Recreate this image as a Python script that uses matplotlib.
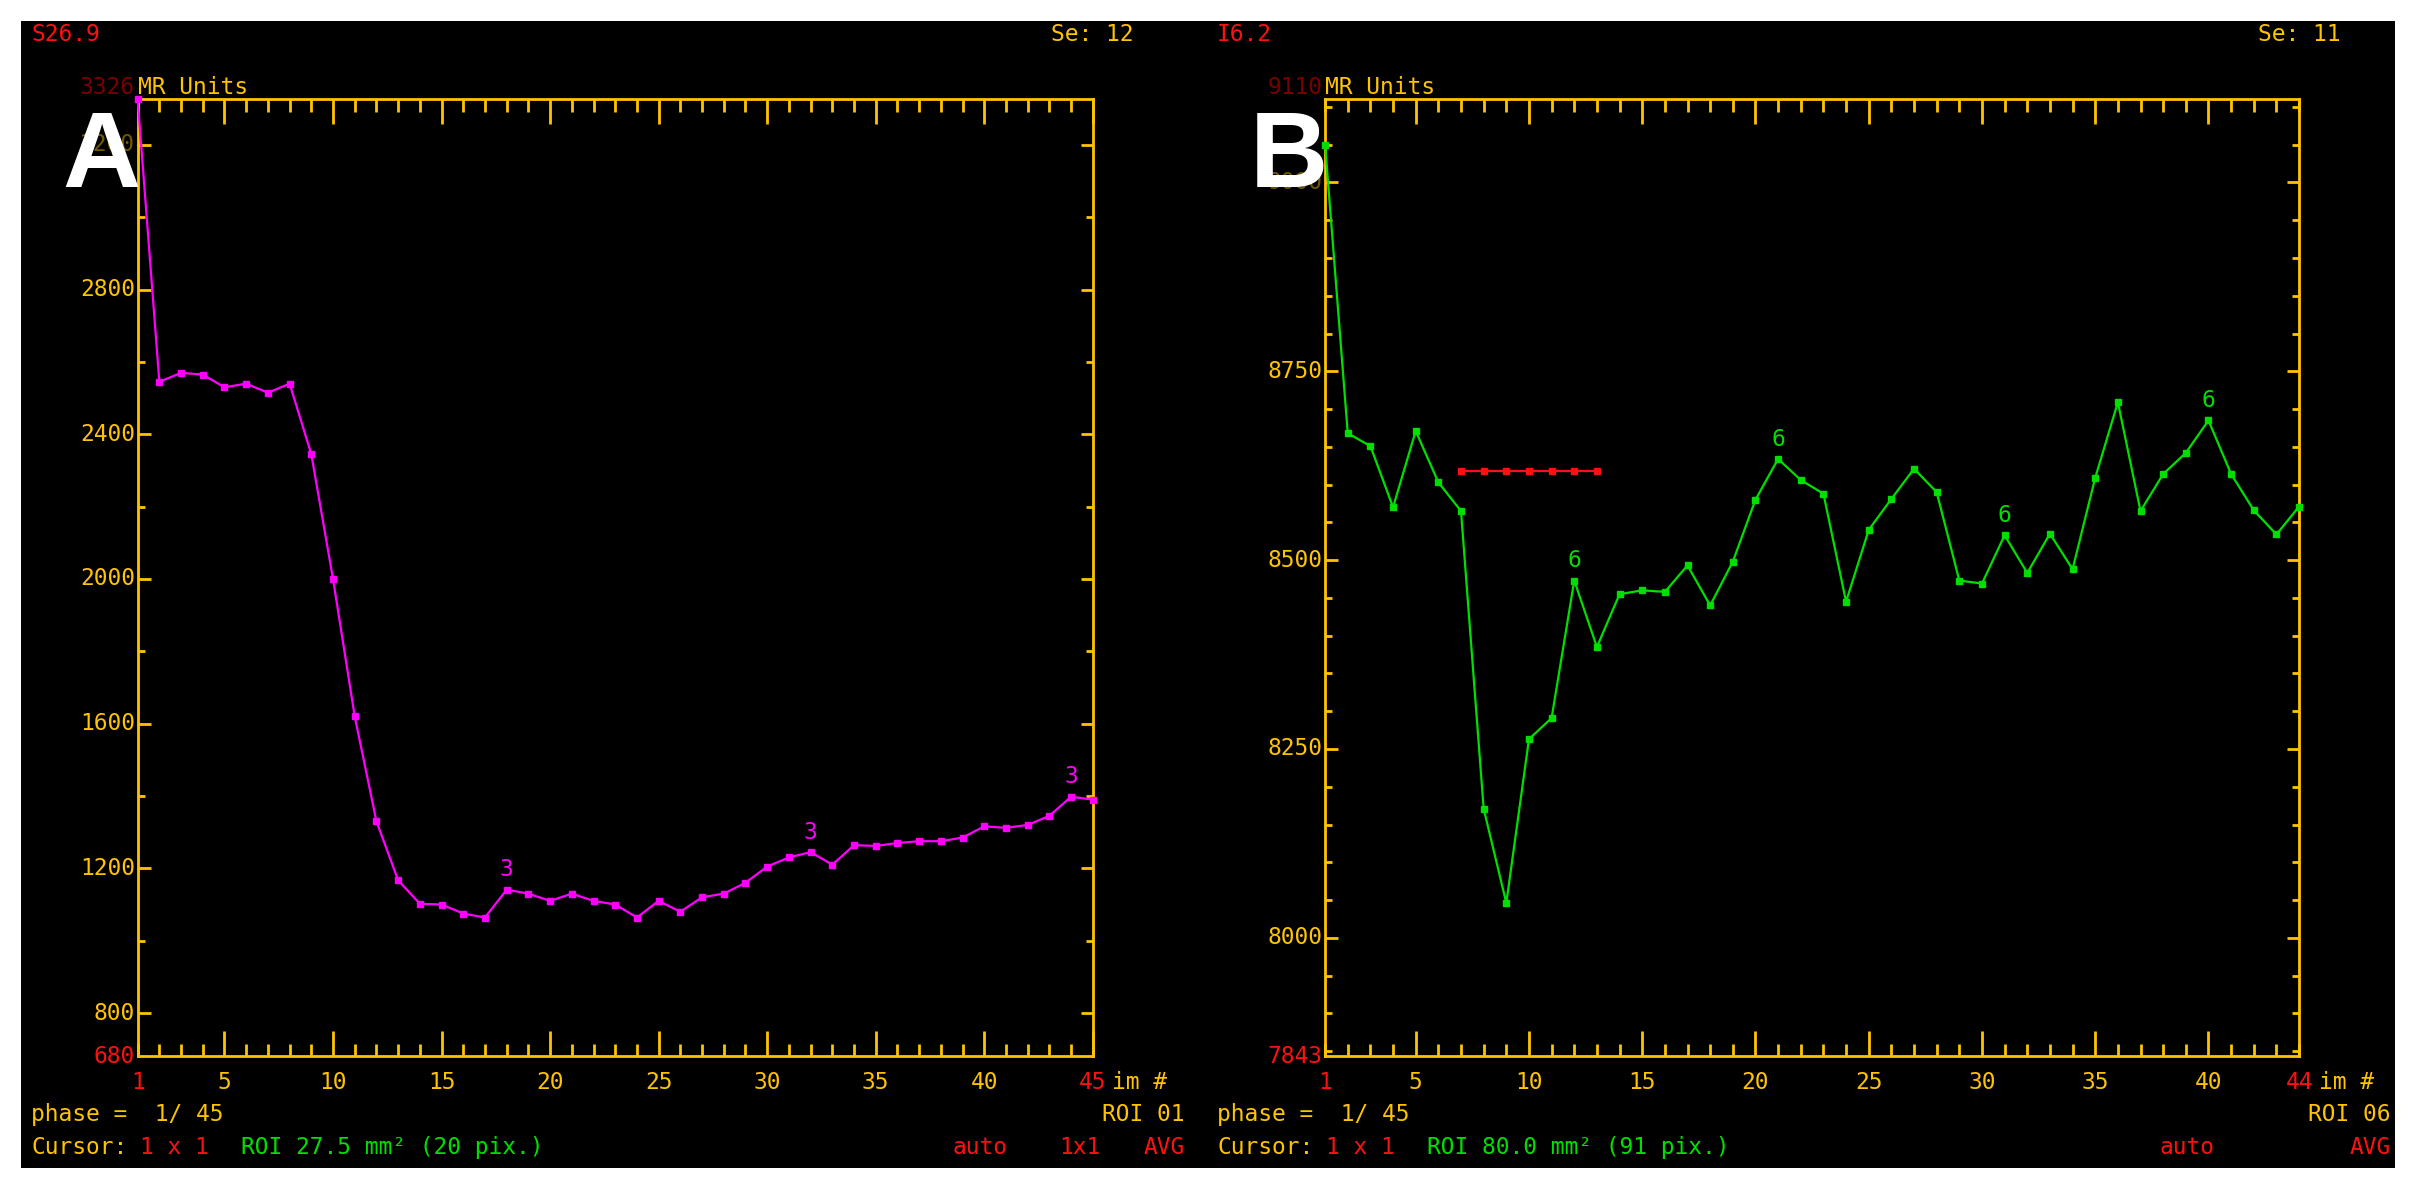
import matplotlib
matplotlib.use("Agg")
import matplotlib.pyplot as plt
from matplotlib.patches import Rectangle
from matplotlib.ticker import MultipleLocator

# ---- data ----
a_x = list(range(1, 46))
a_y = [3326, 2545, 2570, 2565, 2530, 2540, 2515, 2540, 2345, 2000, 1620, 1330, 1167, 1102, 1100,
       1075, 1064, 1141, 1130, 1110, 1130, 1110, 1100, 1064, 1110, 1080, 1120, 1130, 1160, 1205,
       1230, 1245, 1210, 1264, 1262, 1270, 1275, 1275, 1285, 1316, 1312, 1320, 1345, 1398, 1390]
a_marks = [18, 32, 44]
a_yticks = [800, 1200, 1600, 2000, 2400, 2800, 3200]

b_x = list(range(1, 45))
b_y = [9050, 8668, 8651, 8570, 8671, 8603, 8565, 8171, 8046, 8263, 8291, 8473, 8385, 8455, 8460,
       8458, 8493, 8440, 8498, 8580, 8634, 8606, 8588, 8445, 8540, 8581, 8621, 8590, 8473, 8469,
       8533, 8483, 8535, 8488, 8609, 8709, 8565, 8614, 8642, 8685, 8614, 8566, 8534, 8571]
b_marks = [12, 21, 31, 40]
b_ref_x = [7, 8, 9, 10, 11, 12, 13]
b_ref_y = [8618] * 7
b_yticks = [8000, 8250, 8500, 8750, 9000]

YEL = "#ffc400"
RED = "#ff1010"
GRN = "#00e000"
MAG = "#ff00ff"
DRED = "#7a0000"
MONO = "DejaVu Sans Mono"
FS = 16.5

fig = plt.figure(figsize=(24.15, 11.83), dpi=100, facecolor="white")
fig.patches.append(Rectangle((0.0087, 0.0127), 0.983, 0.9693, transform=fig.transFigure,
                             facecolor="black", edgecolor="none", zorder=-10))


def panel(rect, xs, ys, color, xmax, ylo, yhi, yticks, yminor, marks, mark_lbl,
          top_left, top_right, big, roi, cursor_roi, extra_1x1, xo):
    ax = fig.add_axes(rect)
    ax.set_zorder(2)
    ax.set_facecolor("black")
    ax.plot(xs, ys, color=color, lw=1.6, marker="s", ms=4.5, zorder=3, clip_on=False)
    for m in marks:
        ax.annotate(mark_lbl, (m, ys[m - 1]), xytext=(0, 6), textcoords="offset points",
                    ha="center", va="bottom", color=color, fontsize=FS, family=MONO)
    ax.set_xlim(1, xmax)
    ax.set_ylim(ylo, yhi)
    for s in ax.spines.values():
        s.set_color(YEL)
        s.set_linewidth(2)
    ax.xaxis.set_minor_locator(MultipleLocator(1))
    ax.set_xticks([t for t in range(5, xmax + 1, 5)])
    ax.yaxis.set_minor_locator(MultipleLocator(yminor))
    ax.set_yticks(yticks)
    ax.tick_params(which="both", direction="in", colors=YEL, top=True, right=True,
                   labelbottom=False, labelleft=False, width=2)
    ax.tick_params(which="major", length=18, axis="x")
    ax.tick_params(which="minor", length=9, axis="x")
    ax.tick_params(which="major", length=9, axis="y")
    ax.tick_params(which="minor", length=5, axis="y")
    tb = ax.get_xaxis_transform()
    ty = ax.get_yaxis_transform()
    kw = dict(fontsize=FS, family=MONO)
    ax.text(1, -0.015, "1", transform=tb, color=RED, ha="center", va="top", **kw)
    for t in range(5, xmax, 5):
        ax.text(t, -0.015, str(t), transform=tb, color=YEL, ha="center", va="top", **kw)
    ax.text(xmax, -0.015, str(xmax), transform=tb, color=RED, ha="center", va="top", **kw)
    ax.text(xmax + 0.9, -0.015, "im #", transform=tb, color=YEL, ha="left", va="top", **kw)
    for t in yticks:
        ax.text(-0.003, t, str(t), transform=ty, color=YEL, ha="right", va="center",
                alpha=0.45 if t == yticks[-1] else 1, **kw)
    ax.text(-0.003, ylo, str(ylo), transform=ty, color=RED, ha="right", va="center", **kw)
    ax.text(-0.003, yhi, str(yhi), transform=ty, color=DRED, ha="right", va="bottom", **kw)
    ax.text(0.0, yhi, "MR Units", transform=ty, color=YEL, ha="left", va="bottom", **kw)
    ax.text(0.003, 0.99, big, transform=ax.transAxes, color="white", fontsize=78,
            fontweight="bold", family="Liberation Sans", ha="right", va="top", zorder=5)
    r = rect[0] + rect[2]
    fig.text(xo, 0.971, top_left, color=RED, va="center", **kw)
    fig.text(r + 0.017, 0.971, top_right, color=YEL, va="center", ha="right", **kw)
    fig.text(xo, 0.058, "phase =  1/ 45", color=YEL, va="center", **kw)
    fig.text(r + 0.038, 0.058, roi, color=YEL, va="center", ha="right", **kw)
    fig.text(xo, 0.030, "Cursor:", color=YEL, va="center", **kw)
    fig.text(xo + 0.045, 0.030, "1 x 1", color=RED, va="center", **kw)
    fig.text(xo + 0.087, 0.030, cursor_roi, color=GRN, va="center", **kw)
    fig.text(r - 0.058, 0.030, "auto", color=RED, va="center", **kw)
    if extra_1x1:
        fig.text(r - 0.014, 0.030, "1x1", color=RED, va="center", **kw)
    fig.text(r + 0.038, 0.030, "AVG", color=RED, va="center", ha="right", **kw)
    return ax


panel([0.057, 0.107, 0.3955, 0.809], a_x, a_y, MAG, 45, 680, 3326, a_yticks, 200, a_marks, "3",
      "S26.9", "Se: 12", "A", "ROI 01", "ROI 27.5 mm² (20 pix.)", True, 0.013)
axb = panel([0.5487, 0.107, 0.4033, 0.809], b_x, b_y, GRN, 44, 7843, 9110, b_yticks, 50, b_marks, "6",
            "I6.2", "Se: 11", "B", "ROI 06", "ROI 80.0 mm² (91 pix.)", False, 0.504)
axb.plot(b_ref_x, b_ref_y, color=RED, lw=1.6, marker="s", ms=4, zorder=4)

fig.savefig("out.png", dpi=100, facecolor="white")
